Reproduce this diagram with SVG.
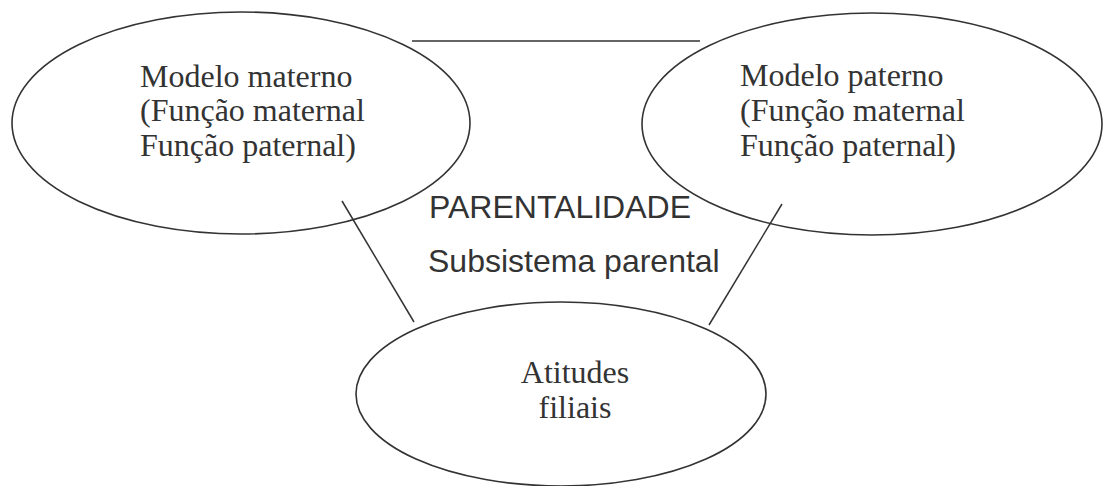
<svg xmlns="http://www.w3.org/2000/svg" width="1107" height="486" viewBox="0 0 1107 486">
<style>
.shape{fill:none;stroke:#333;stroke-width:1.6}
.conn{stroke:#333;stroke-width:1.5;fill:none}
.serif{font-family:"Liberation Serif","Times New Roman",serif;font-size:32px;fill:#333}
.sans{font-family:"Liberation Sans",Arial,sans-serif;font-size:32px;fill:#333}
</style>
<rect width="1107" height="486" fill="#fff"/>
<g id="connectors">
<line class="conn" x1="412" y1="41" x2="700" y2="41"/>
<line class="conn" x1="342" y1="201" x2="414" y2="322"/>
<line class="conn" x1="782" y1="204" x2="709" y2="325"/>
</g>
<g id="modelo-materno">
<ellipse class="shape" cx="241" cy="123" rx="229" ry="111"/>
<text class="serif" x="140" y="87">Modelo materno</text>
<text class="serif" x="140" y="121">(Função maternal</text>
<text class="serif" x="140" y="156">Função paternal)</text>
</g>
<g id="modelo-paterno">
<ellipse class="shape" cx="872" cy="124" rx="230" ry="111"/>
<text class="serif" x="740" y="86">Modelo paterno</text>
<text class="serif" x="740" y="121">(Função maternal</text>
<text class="serif" x="740" y="156">Função paternal)</text>
</g>
<g id="atitudes-filiais">
<ellipse class="shape" cx="561" cy="394" rx="205" ry="92"/>
<text class="serif" x="575" y="383" text-anchor="middle">Atitudes</text>
<text class="serif" x="575" y="418" text-anchor="middle">filiais</text>
</g>
<g id="labels">
<text class="sans" x="429" y="218">PARENTALIDADE</text>
<text class="sans" x="428" y="272">Subsistema parental</text>
</g>
</svg>
